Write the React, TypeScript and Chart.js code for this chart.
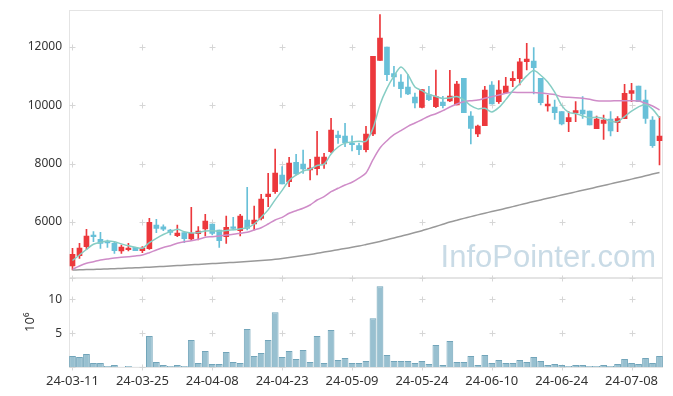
import React, { useEffect, useRef } from 'react';
import { Chart, registerables } from 'chart.js';

Chart.register(...registerables);

const dates = ['24-03-11','24-03-12','24-03-13','24-03-14','24-03-15','24-03-18','24-03-19','24-03-20','24-03-21','24-03-22','24-03-25','24-03-26','24-03-27','24-03-28','24-03-29','24-04-01','24-04-02','24-04-03','24-04-04','24-04-05','24-04-08','24-04-09','24-04-11','24-04-12','24-04-15','24-04-16','24-04-17','24-04-18','24-04-19','24-04-22','24-04-23','24-04-24','24-04-25','24-04-26','24-04-29','24-04-30','24-05-02','24-05-03','24-05-07','24-05-08','24-05-09','24-05-10','24-05-13','24-05-14','24-05-16','24-05-17','24-05-20','24-05-21','24-05-22','24-05-23','24-05-24','24-05-27','24-05-28','24-05-29','24-05-30','24-05-31','24-06-03','24-06-04','24-06-05','24-06-07','24-06-10','24-06-11','24-06-12','24-06-13','24-06-14','24-06-17','24-06-18','24-06-19','24-06-20','24-06-21','24-06-24','24-06-25','24-06-26','24-06-27','24-06-28','24-07-01','24-07-02','24-07-03','24-07-04','24-07-05','24-07-08','24-07-09','24-07-10','24-07-11','24-07-12'];

const opens = [4491,4845,5154,5531,5405,5302,5268,5005,5051,5131, 5017,5085,5897,5830,5725,5531,5633,5416,5599,5760, 5931,5725,5497,5828,5703,6068,5931,6125,6868,7040, 7611,7383,8046,7988,7783,7828,7989,8411,8983,8949, 8700,8616,8479,9016,11543,12000,11085,10800,10628,10285, 9931,10365,9954,10110,10155,10011,10926,9634,9017,9303, 10697,10126,10434,10846,10910,11497,11520,10926,9977,9940, 9783,9440,9749,9840,9806,9200,9383,9531,9406,9543, 10412,10663,10183,9497,8789];
const highs = [5097,5268,5748,5668,5645,5382,5325,5211,5268,5131, 5154,6125,6091,5900,5748,5896,5633,6502,5839,6263, 5931,5725,6200,6160,6263,7188,6548,6948,7668,8503, 7897,8217,8320,8468,8149,9109,8354,9554,9120,9383, 8950,8708,9279,11680,13108,12000,11337,11051,11051,10422, 10537,10651,11212,10308,11200,10820,10926,9783,9326,10650, 10811,10846,10960,11154,11611,12126,11983,10926,10340,10183, 9783,9783,10126,10297,9806,9634,9669,9783,9612,10720, 10754,10663,10526,9612,9612];
const lows = [4354,4754,5062,5325,5097,5131,4925,4925,5005,5017, 4948,5062,5634,5700,5553,5496,5291,5359,5382,5520, 5553,5131,5268,5725,5520,5725,5725,6068,6525,6983, 7303,7211,7611,7668,7440,7611,7840,8377,8697,8583, 8440,8308,8399,8959,11543,10845,10651,10274,10365,9908, 9908,10160,9920,9908,10126,10011,9748,8674,8926,9303, 10046,10068,10411,10640,10700,11211,10390,10011,9800,9520, 9326,9097,9440,9554,9326,9200,8834,8949,9097,9543, 10126,10126,9383,8560,7954];
const closes = [4891,5108,5520,5497,5268,5280,5017,5142,5108,5017, 5108,5988,5783,5750,5645,5622,5428,5611,5691,6034, 5611,5360,5817,5782,6205,5782,6068,6788,6960,7680, 7303,8023,7646,7817,7851,8229,8229,9154,8891,8720, 8650,8479,9016,11680,12308,11051,10971,10571,10388,10079, 10537,10194,10297,9985,10320,10731,9748,9205,9291,10526, 10046,10526,10663,10930,11490,11589,11292,10091,10046,9749, 9360,9577,9817,9703,9326,9532,9497,9120,9543,10412, 10503,10126,9554,8617,8949];

const ma5 = [4679,4868,5056,5235,5300,5345,5320,5250,5185,5130, 5100,5290,5440,5570,5670,5750,5665,5625,5635,5690, 5700,5685,5705,5730,5765,5800,5931,6165,6415,6760, 7085,7425,7605,7750,7810,7935,7985,8330,8570,8705, 8745,8770,8770,9210,10024,10580,11000,11315,11054,10632, 10505,10370,10305,10235,10255,10300,10190,9988,9878,9899, 9772,9925,10196,10500,10743,11010,11193,11030,10800,10450, 10000,9756,9718,9637,9573,9590,9548,9455,9440,9615, 9798,9947,10031,9870,9570];
const ma20 = [4377,4490,4583,4638,4696,4731,4765,4789,4809,4833, 4868,4947,5039,5125,5187,5269,5324,5358,5406,5475, 5495,5519,5553,5578,5612,5646,5725,5804,5931,6068, 6160,6298,6387,6469,6582,6754,6867,7038,7155,7268, 7361,7508,7679,8136,8537,8787,8993,9130,9281,9394, 9507,9624,9713,9816,9943,10045,10124,10159,10183,10241, 10296,10354,10412,10447,10440,10440,10440,10423,10399,10371, 10296,10275,10261,10241,10207,10159,10148,10148,10159,10159, 10159,10148,10069,9977,9840];
const ma120 = [4353,4360,4367,4374,4381,4388,4398,4408,4418,4429, 4439,4449,4463,4477,4490,4504,4518,4532,4545,4559, 4573,4586,4600,4614,4628,4641,4658,4675,4696,4720, 4747,4778,4813,4847,4885,4926,4967,5008,5049,5090, 5131,5176,5227,5279,5334,5392,5451,5512,5574,5636, 5701,5773,5845,5920,5996,6061,6123,6184,6243,6301, 6356,6411,6469,6527,6586,6644,6702,6757,6812,6867, 6922,6977,7032,7086,7141,7196,7251,7306,7360,7415, 7470,7525,7583,7642,7700];

const volumes = [1.62,1.47,1.91,0.59,0.59,0.15,0.29,0.05,0.15,0.05, 0.05,4.56,0.74,0.29,0.15,0.29,0.15,3.97,0.59,2.35, 0.44,0.44,2.2,0.74,0.59,5.59,1.62,2.06,3.97,8.09, 1.47,2.35,1.18,2.5,0.74,4.56,0.59,5.44,1.03,1.32, 0.59,0.59,0.88,7.2,11.9,1.76,0.88,0.88,0.88,0.59, 0.88,0.44,3.24,0.29,3.82,0.74,0.74,1.62,0.29,1.76, 0.59,1.03,0.59,0.59,1.03,0.74,1.47,0.88,0.29,0.44, 0.29,0.15,0.29,0.29,0.15,0.15,0.29,0.15,0.44,1.18, 0.59,0.44,1.32,0.59,1.62];

const priceTicks = [6000, 8000, 10000, 12000];
const volumeTicks = [5, 10];
const priceMin = 4096;
const priceMax = 13269;
const volumeMax = 13.2;
const volumeUnit = '10\u2076';
const watermark = 'InfoPointer.com';
const labelEvery = 10;

const UP = 'rgb(236,56,60)';
const DOWN = 'rgb(104,192,216)';
const FONT = '"Noto Sans", "DejaVu Sans", sans-serif';
const TEXT = '#333333';

const noPad = (s: any) => { s.paddingTop = 0; s.paddingBottom = 0; s.paddingLeft = 0; s.paddingRight = 0; };

const decorPlugin = {
  id: 'decor',
  beforeDatasetsDraw(chart: any) {
    const { ctx, chartArea, scales } = chart;
    const xs = scales.x, yp = scales.y, yv = scales.yv;
    ctx.save();
    ctx.font = '31px "Liberation Sans", sans-serif';
    ctx.fillStyle = '#c9dbe6';
    ctx.textAlign = 'right';
    ctx.textBaseline = 'alphabetic';
    ctx.fillText(watermark, chartArea.right - 7, yp.bottom - 11);

    ctx.strokeStyle = '#e4e4e4';
    ctx.lineWidth = 1;
    const l = Math.round(chartArea.left) + 0.5;
    const w = Math.round(chartArea.right - chartArea.left) - 1;
    [yp, yv].forEach((s: any) => {
      ctx.strokeRect(l, Math.round(s.top) + 0.5, w, Math.round(s.bottom - s.top) - 1);
    });

    ctx.strokeStyle = '#d6d6d6';
    const ys = [
      ...priceTicks.map((v) => yp.getPixelForValue(v)),
      ...volumeTicks.map((v) => yv.getPixelForValue(v)),
      yp.bottom, yv.bottom,
    ];
    for (let i = 0; i < dates.length; i += labelEvery) {
      const px = Math.round(xs.getPixelForValue(i)) + 0.5;
      ys.forEach((py) => {
        const y = Math.round(py) + 0.5;
        ctx.beginPath();
        ctx.moveTo(px - 3, y); ctx.lineTo(px + 3, y);
        ctx.moveTo(px, y - 3); ctx.lineTo(px, y + 3);
        ctx.stroke();
      });
    }
    ctx.restore();
  },
};

export default function App() {
  const ref = useRef<HTMLCanvasElement>(null);
  useEffect(() => {
    const colors = opens.map((o, i) => (closes[i] >= o ? UP : DOWN));
    const bodies = opens.map((o, i) => [Math.min(o, closes[i]), Math.max(o, closes[i])]);
    const wicks = lows.map((l, i) => [l, highs[i]]);
    const chart = new Chart(ref.current as HTMLCanvasElement, {
      type: 'bar',
      data: {
        labels: dates,
        datasets: [
          { type: 'line', label: 'MA5', data: ma5, yAxisID: 'y', borderColor: '#86cdc4', borderWidth: 1.5, pointRadius: 0, tension: 0.3 } as any,
          { type: 'line', label: 'MA20', data: ma20, yAxisID: 'y', borderColor: '#cf8cc8', borderWidth: 1.5, pointRadius: 0, tension: 0.3 } as any,
          { type: 'line', label: 'MA120', data: ma120, yAxisID: 'y', borderColor: '#999999', borderWidth: 1.5, pointRadius: 0, tension: 0.3 } as any,
          { type: 'bar', label: 'body', data: bodies, yAxisID: 'y', backgroundColor: colors, barThickness: 5, grouped: false, minBarLength: 1.5, borderWidth: 0 } as any,
          { type: 'bar', label: 'wick', data: wicks, yAxisID: 'y', backgroundColor: colors, barThickness: 1, grouped: false, borderWidth: 0 } as any,
          { type: 'bar', label: 'volume', data: volumes, yAxisID: 'yv', backgroundColor: '#98c0d0', borderColor: '#72a5ba', borderWidth: 1, barPercentage: 0.97, categoryPercentage: 1, grouped: false } as any,
        ],
      },
      options: {
        responsive: false,
        animation: false,
        events: [],
        layout: { padding: { top: 10, right: 10, left: 0, bottom: 0 } },
        plugins: { legend: { display: false }, tooltip: { enabled: false } },
        scales: {
          x: {
            type: 'category',
            offset: true,
            grid: { display: false, drawTicks: false },
            border: { display: false },
            ticks: {
              autoSkip: false, maxRotation: 0, minRotation: 0, padding: 6,
              color: TEXT, font: { family: FONT, size: 13 },
              callback: (_v: any, i: number) => (i % labelEvery === 0 ? dates[i] : ''),
            },
            afterFit: (s: any) => { s.height = 29; noPad(s); },
          },
          yv: {
            type: 'linear', position: 'left', stack: 'panels', stackWeight: 89.5,
            min: 0, max: volumeMax,
            grid: { display: false, drawTicks: false },
            border: { display: false },
            title: { display: true, text: volumeUnit, color: TEXT, font: { family: FONT, size: 13 }, padding: { top: 22, bottom: 0 } },
            ticks: { padding: 7, color: TEXT, font: { family: FONT, size: 12 }, callback: (v: any) => String(v) },
            afterBuildTicks: (s: any) => { s.ticks = volumeTicks.map((v) => ({ value: v })); },
            afterFit: (s: any) => { s.width = 69; noPad(s); },
          },
          y: {
            type: 'linear', position: 'left', stack: 'panels', stackWeight: 267.5,
            min: priceMin, max: priceMax,
            grid: { display: false, drawTicks: false },
            border: { display: false },
            ticks: { padding: 7, color: TEXT, font: { family: FONT, size: 12 }, callback: (v: any) => String(v) },
            afterBuildTicks: (s: any) => { s.ticks = priceTicks.map((v) => ({ value: v })); },
            afterFit: (s: any) => { s.width = 69; noPad(s); },
          },
        },
      } as any,
      plugins: [decorPlugin],
    });
    return () => chart.destroy();
  }, []);
  return (
    <div style={{ position: 'absolute', left: 0, top: 0, width: 673, height: 396 }}>
      <canvas ref={ref} width={673} height={396} style={{ display: 'block', width: 673, height: 396 }} />
    </div>
  );
}
